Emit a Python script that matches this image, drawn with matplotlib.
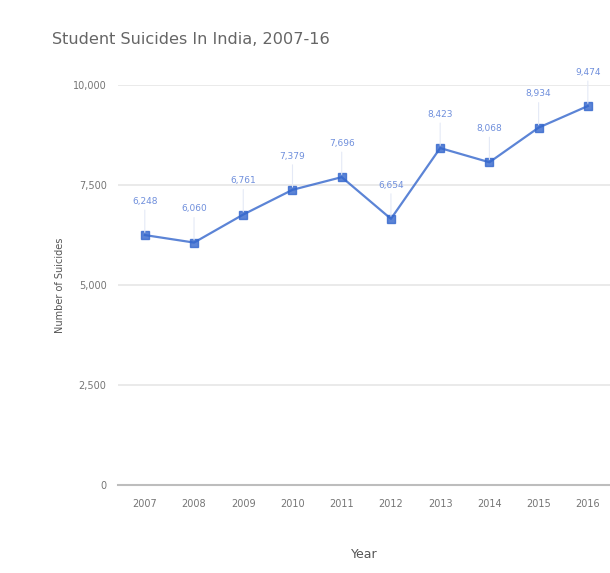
import matplotlib
matplotlib.use("Agg")
from matplotlib import pyplot as plt

years = ["2007", "2008", "2009", "2010", "2011", "2012", "2013", "2014", "2015", "2016"]
suicides = [6248, 6060, 6761, 7379, 7696, 6654, 8423, 8068, 8934, 9474]
y_ticks = [0, 2500, 5000, 7500, 10000]
y_tick_labels = ["0", "2,500", "5,000", "7,500", "10,000"]

plt.rcParams['font.family'] = ['DejaVu Sans']
blue = '#3366cc'
label_blue = '#6f8fdc'
grey = '#757575'

fig = plt.figure(figsize=(6.1, 5.73), dpi=100)
ax = fig.add_axes([0.193, 0.1536, 0.807, 0.6981])

x = list(range(len(years)))
ax.plot(x, suicides, color=blue, linewidth=1.6, marker='s', markersize=6, alpha=0.8,
        clip_on=False, zorder=3)

for i, v in enumerate(suicides):
    ax.annotate(f"{v:,}", (i, v), xytext=(0, 21), textcoords='offset points',
                ha='center', va='bottom', fontsize=6.5, color=label_blue,
                annotation_clip=False)
    ax.annotate("", (i, v), xytext=(0, 20), textcoords='offset points',
                arrowprops=dict(arrowstyle='-', color='#e4e9f6', lw=0.8),
                annotation_clip=False)

ax.set_xlim(-0.55, 9.45)
ax.set_ylim(0, 10000)
ax.set_xticks(x)
ax.set_xticklabels(years, fontsize=7, color=grey)
ax.set_yticks(y_ticks)
ax.set_yticklabels(y_tick_labels, fontsize=7, color=grey)
ax.tick_params(length=0, pad=8)
ax.tick_params(axis='x', pad=10)

ax.grid(axis='y', color='#e6e6e6', linewidth=1.2)
ax.set_axisbelow(True)
for s in ['top', 'right', 'left']:
    ax.spines[s].set_visible(False)
ax.spines['bottom'].set_color('#bdbdbd')
ax.spines['bottom'].set_linewidth(1.5)

ax.set_xlabel("Year", fontsize=9, color='#555555', labelpad=28)
ax.set_ylabel("Number of Suicides", fontsize=7, color='#555555', labelpad=6)
fig.text(52 / 610, 1 - 40 / 573, "Student Suicides In India, 2007-16", fontsize=11.6,
         color='#666666', va='center', ha='left')

fig.savefig("out.png", dpi=100)
